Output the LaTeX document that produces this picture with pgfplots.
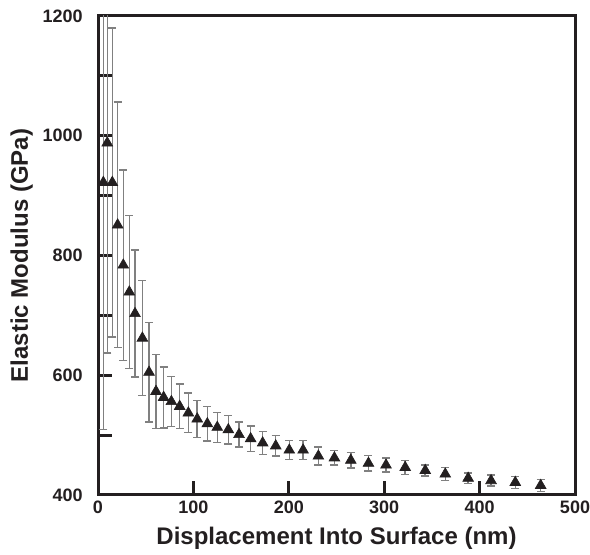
\documentclass[border=0pt]{standalone}
\usepackage{fontspec}
\setmainfont{Liberation Sans}
\usepackage{pgfplots}
\pgfplotsset{compat=1.18}
\usepackage{pgfplotstable}
\usetikzlibrary{calc}

\definecolor{ink}{HTML}{231F20}
\definecolor{bargray}{HTML}{808080}

% displacement (nm), modulus (GPa), std dev
\pgfplotstableread{
x      y     e
5.6    922   413
9.7    988   351
15     922   258
20.6   851   205
26.5   784   159
32.8   739   128
38.8   703   106
46.5   662   96
53.5   605   83
60.8   573   62
68.8   563   51
76.9   556   42
85.6   548   37
94.7   537   33
104    527   31
114.6  519   29
125    513   25
136.6  509   24
147.8  501   21
160    494   21
172.6  487   19
186.3  482   17
200.5  475   16
215    475   16
231    465   15
247.8  462   12
265    458   13
283.5  453   13
301.9  450   12
322    446   12
343    441   9
364    435   11
388    428   9
412    424   9
437.4  421   10
464    416   10
}\modulus

\begin{document}
\begin{tikzpicture}
\begin{axis}[
    scale only axis,
    width=238.5pt, height=239.5pt,
    xmin=0, xmax=500,
    ymin=400, ymax=1200,
    xtick={0,100,...,500},
    ytick={400,500,...,1200},
    yticklabels={400,{},600,{},800,{},1000,{},1200},
    xtick pos=bottom, ytick pos=left,
    tick align=inside,
    major tick length=7pt,
    tick style={ink, line width=1.5pt},
    axis line style={ink, line width=1.5pt},
    /pgf/number format/assume math mode=true,
    ticklabel style={font=\bfseries\fontsize{9}{10}\selectfont, text=ink, inner sep=0pt},
    yticklabel style={anchor=east, xshift=-7.5pt},
    xticklabel style={anchor=north, yshift=-3pt},
    xlabel={Displacement Into Surface (nm)},
    ylabel={Elastic Modulus (GPa)},
    label style={font=\bfseries\fontsize{12}{14}\selectfont, text=ink},
    xlabel style={at={(axis description cs:0.5,-0.09)}, anchor=center},
    ylabel style={at={(axis description cs:-0.16,0.5)}, anchor=center},
]
\addplot[
    only marks,
    mark=triangle*,
    mark size=3.1pt,
    mark options={fill=ink, draw=ink, line width=0.3pt},
    error bars/.cd,
        y dir=both, y explicit,
        error bar style={bargray, line width=0.75pt},
        error mark options={rotate=90, mark size=2pt, bargray, line width=0.75pt},
] table[x=x, y=y, y error=e] {\modulus};
\coordinate (bl) at (rel axis cs:0,0);
\coordinate (tr) at (rel axis cs:1,1);
\end{axis}
\pgfresetboundingbox
\path ($(bl)+(-49pt,-30pt)$) rectangle ($(tr)+(7.5pt,8pt)$);
\end{tikzpicture}
\end{document}
